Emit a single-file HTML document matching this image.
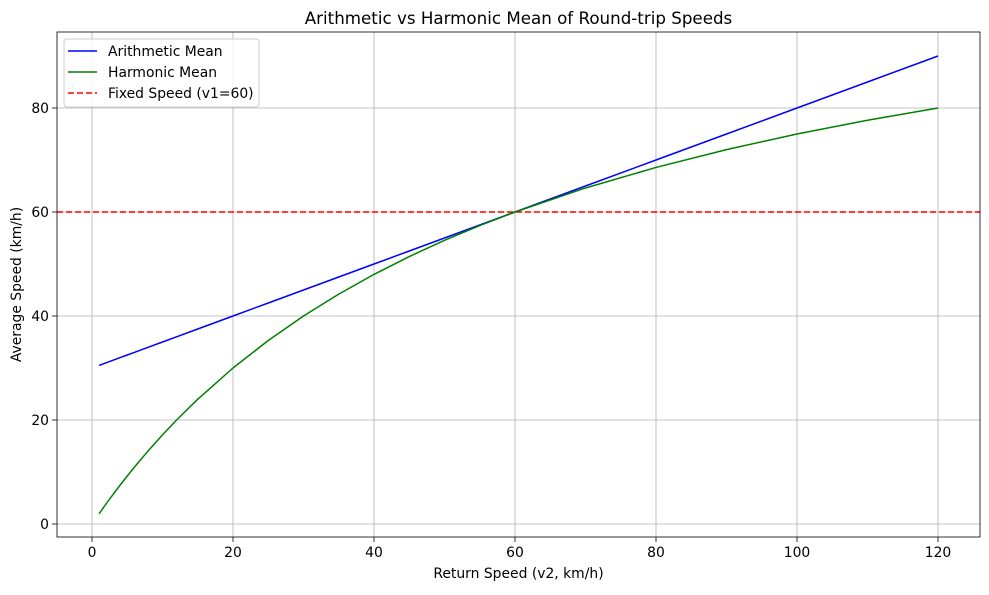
<!DOCTYPE html>
<html><head><meta charset="utf-8"><style>
body{margin:0;background:#fff;font-family:"Liberation Sans","DejaVu Sans",sans-serif}
svg text{font-family:"DejaVu Sans","Liberation Sans",sans-serif}
</style></head><body>
<svg id="chart" width="989" height="590" xmlns="http://www.w3.org/2000/svg"></svg>
<script>
const xValues=[1,2,3,4,5,6,8,10,12,15,20,25,30,35,40,45,50,55,60,70,80,90,100,110,120];
const arithmeticMean=[30.5,31,31.5,32,32.5,33,34,35,36,37.5,40,42.5,45,47.5,50,52.5,55,57.5,60,65,70,75,80,85,90];
const harmonicMean=[1.97,3.87,5.71,7.5,9.23,10.91,14.12,17.14,20,24,30,35.29,40,44.21,48,51.43,54.55,57.39,60,64.62,68.57,72,75,77.65,80];
const fixedSpeed=60;
const xTicks=[0,20,40,60,80,100,120];
const yTicks=[0,20,40,60,80];

const NS="http://www.w3.org/2000/svg";
const svg=document.getElementById('chart');
const L=57,R=980,T=32,B=537;
const sx=v=>92+(v)*(938-92)/120;
const sy=v=>524-(v)*(524-108)/80;
function el(tag,attrs,parent){const e=document.createElementNS(NS,tag);for(const k in attrs)e.setAttribute(k,attrs[k]);(parent||svg).appendChild(e);return e;}

const grid=el('g',{});


xTicks.forEach(t=>{
  const l=el('line',{x1:sx(t),x2:sx(t),y1:T,y2:B,stroke:'#b0b0b0','stroke-width':0.8},grid);
  
  
  el('line',{x1:sx(t),x2:sx(t),y1:B,y2:B+5,stroke:'#000','stroke-width':0.8});
  const tx=el('text',{x:sx(t),y:B+20,'text-anchor':'middle','font-size':13.9});
  tx.textContent=t;
  
  
});
yTicks.forEach(t=>{
  const l=el('line',{x1:L,x2:R,y1:sy(t),y2:sy(t),stroke:'#b0b0b0','stroke-width':0.8},grid);
  
  
  el('line',{x1:L-5,x2:L,y1:sy(t),y2:sy(t),stroke:'#000','stroke-width':0.8});
  const tx=el('text',{x:L-8,y:sy(t)+5,'text-anchor':'end','font-size':13.9});
  tx.textContent=t;
  
  
});

const fx=el('line',{x1:L,x2:R,y1:sy(fixedSpeed),y2:sy(fixedSpeed),stroke:'#ff0000','stroke-width':1.5,'stroke-dasharray':'6,3'});



const pa=el('polyline',{points:xValues.map((x,i)=>sx(x)+','+sy(arithmeticMean[i])).join(' '),fill:'none',stroke:'#0000ff','stroke-width':1.5});


const ph=el('polyline',{points:xValues.map((x,i)=>sx(x)+','+sy(harmonicMean[i])).join(' '),fill:'none',stroke:'#008000','stroke-width':1.5,'stroke-linejoin':'round'});



const fr=el('rect',{x:L,y:T,width:R-L,height:B-T,fill:'none',stroke:'#000','stroke-width':0.8});



const title=el('text',{x:(L+R)/2,y:24,'text-anchor':'middle','font-size':16.7});
title.textContent='Arithmetic vs Harmonic Mean of Round-trip Speeds';


const xt=el('text',{x:(L+R)/2,y:578,'text-anchor':'middle','font-size':13.9});
xt.textContent='Return Speed (v2, km/h)';


const yt=el('text',{x:21,y:(T+B)/2,'text-anchor':'middle','font-size':13.9,transform:'rotate(-90 21 '+((T+B)/2)+')'});
yt.textContent='Average Speed (km/h)';



const lg=el('g',{});


el('rect',{x:64,y:39,width:195,height:68,rx:3,fill:'#fff','fill-opacity':0.8,stroke:'#ccc','stroke-width':1},lg);
[['Arithmetic Mean','#0000ff',''],['Harmonic Mean','#008000',''],['Fixed Speed (v1=60)','#ff0000','6,3']].forEach((d,i)=>{
  const y=51+i*21;
  const ln=el('line',{x1:68,x2:97,y1:y,y2:y,stroke:d[1],'stroke-width':1.5,'stroke-dasharray':d[2]||'none'},lg);
  
  
  const t=el('text',{x:108,y:y+5,'font-size':13.9},lg);
  t.textContent=d[0];
  
  
});
</script>
</body></html>
